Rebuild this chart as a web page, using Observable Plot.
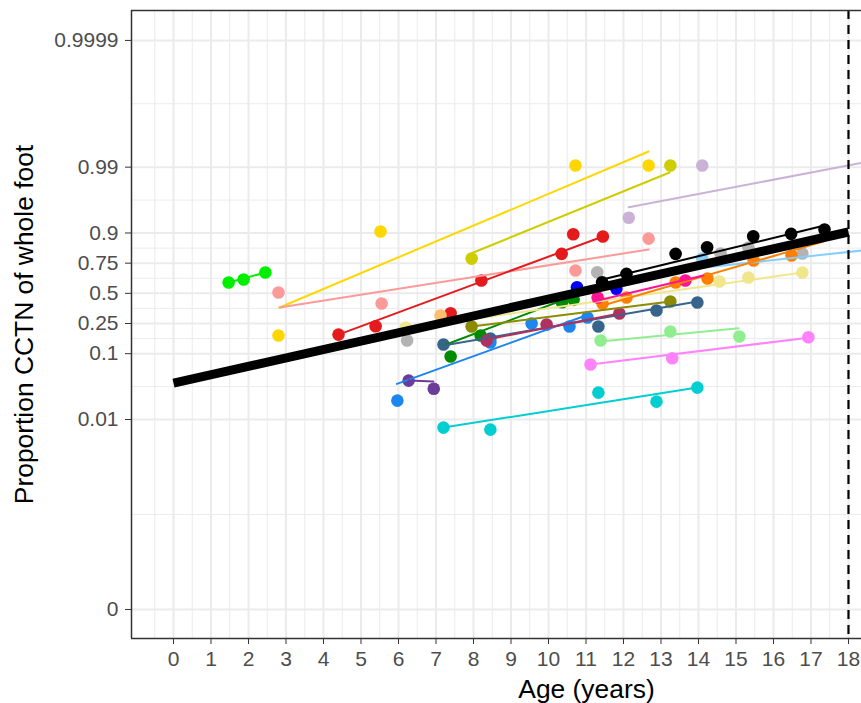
<!DOCTYPE html>
<html>
<head>
<meta charset="utf-8">
<script src="https://cdn.jsdelivr.net/npm/d3@7"></script>
<script src="https://cdn.jsdelivr.net/npm/@observablehq/plot@0.6"></script>
<style>
  html, body { margin: 0; padding: 0; background: #fff; overflow: hidden; }
  #chart { width: 861px; height: 703px; overflow: hidden; }
</style>
</head>
<body>
<div id="chart"></div>
<script>
// ---- subjects and colours ----
const subjectIds = ["A","B","C","D","E","F","G","H","I","J","K","L","M","N","O","P","Q","R","S","T","U","V","W"];
const subjectColors = ["#00EE00","#FFD700","#FB9A99","#CDCD00","#CAB2D6","#87CEFA","#E41A1C","#FDBF6F","#B3B3B3","#000000","#0000FF","#008B00","#36648B","#1C86EE","#6A3D9A","#00CED1","#90EE90","#FF83FA","#8B8B00","#B03060","#F0E68C","#FF7F00","#FF1493"];

// ---- observations (age in years, proportion CCTN) ----
const obsSubject = ["A","A","A","B","B","B","B","C","C","C","C","D","D","E","E","F",
  "G","G","G","G","G","G","G","H","I","I","I","I","I",
  "J","J","J","J","J","J","J","K","K","L","L","L","L",
  "M","M","M","M","M","N","N","N","N","N","O","O",
  "P","P","P","P","P","Q","Q","Q","R","R","R","S","S","T","T","T",
  "U","U","U","U","V","V","V","V","V","V","W","W"];
const obsAge = [1.47,1.87,2.45, 2.80,5.52,10.72,12.67, 2.80,5.55,10.72,12.67, 7.95,13.25, 12.14,14.10, 14.10,
  4.40,5.39,7.39,8.21,10.35,10.66,11.45, 7.12, 6.23,11.30,14.59,15.33,16.77,
  11.43,12.08,13.39,14.23,15.46,16.47,17.36, 10.76,11.81, 7.39,8.19,10.36,10.67,
  7.20,8.45,11.33,12.88,13.97, 5.97,8.45,9.55,10.56,11.04, 6.27,6.94,
  7.20,8.45,11.33,12.88,13.97, 11.39,13.25,15.09, 11.12,13.30,16.93, 7.95,13.25, 8.35,9.95,11.89,
  6.19,14.56,15.33,16.77, 11.44,12.08,13.39,14.24,15.47,16.48, 11.31,13.65];
const obsProp = [0.597,0.623,0.681, 0.177,0.905,0.9906,0.9906, 0.507,0.408,0.6965,0.880, 0.780,0.9906, 0.940,0.9906, 0.780,
  0.182,0.232,0.326,0.615,0.808,0.896,0.888, 0.308, 0.152,0.683,0.810,0.841,0.810,
  0.600,0.670,0.808,0.843,0.889,0.897,0.911, 0.555,0.541, 0.091,0.177,0.420,0.441,
  0.134,0.1615,0.230,0.348,0.417, 0.0197,0.143,0.250,0.230,0.293, 0.040,0.030,
  0.00747,0.00695,0.0262,0.0190,0.0313, 0.152,0.199,0.172, 0.0696,0.086,0.168, 0.230,0.426, 0.152,0.243,0.324,
  0.223,0.606,0.640,0.681, 0.408,0.462,0.597,0.632,0.768,0.7985, 0.462,0.6145];

// ---- individual fitted lines (start and end) ----
const fitSubject = ["A","B","C","D","E","F","G","J","L","M","N","O","P","Q","R","S","T","U","V","W"];
const fitAge0  = [1.47,2.83,2.83,7.95,12.14,14.10,4.40,11.44,7.20,7.20,5.96,6.27,7.20,11.39,11.12,7.95,8.35,6.19,11.44,11.20];
const fitProp0 = [0.597,0.3735,0.3735,0.8116,0.9584,0.717,0.182,0.623,0.130,0.130,0.0357,0.040,0.00747,0.1473,0.0696,0.230,0.1567,0.217,0.391,0.426];
const fitAge1  = [2.45,12.67,12.67,13.23,18.35,18.35,11.45,17.36,10.77,13.97,11.07,6.93,13.97,15.07,16.93,13.25,11.89,16.77,17.33,14.13];
const fitProp1 = [0.681,0.99432,0.8314,0.98788,0.9914,0.826,0.888,0.922,0.489,0.426,0.316,0.0387,0.0313,0.219,0.166,0.426,0.324,0.681,0.868,0.657];

// ---- population fit ----
const popAge = [0, 18];
const popProp = [0.0367, 0.9032];

// ---- axes ----
const xTicks = [0,1,2,3,4,5,6,7,8,9,10,11,12,13,14,15,16,17,18];
const xMinorTicks = [-0.5,0.5,1.5,2.5,3.5,4.5,5.5,6.5,7.5,8.5,9.5,10.5,11.5,12.5,13.5,14.5,15.5,16.5,17.5];
const yTickValues = [0.00001,0.01,0.1,0.25,0.5,0.75,0.9,0.99,0.9999];
const yTickLabels = ["0","0.01","0.1","0.25","0.5","0.75","0.9","0.99","0.9999"];

const logit = p => Math.log(p / (1 - p));

const points = obsAge.map((a, i) => ({id: obsSubject[i], age: a, p: obsProp[i]}));
const fits = fitSubject.flatMap((id, i) => [
  {id, age: fitAge0[i], p: fitProp0[i]},
  {id, age: fitAge1[i], p: fitProp1[i]}
]);
const pop = popAge.map((a, i) => ({age: a, p: popProp[i]}));

const yMajor = yTickValues.map(logit);
const yMinor = yMajor.slice(1).map((v, i) => (v + yMajor[i]) / 2);

const grid = "#EBEBEB";
const border = "#333333";

const chart = Plot.plot({
  width: 861,
  height: 703,
  marginLeft: 131,
  marginRight: 0,
  marginTop: 10,
  marginBottom: 65,
  style: {fontFamily: "'Liberation Sans', Arial, Helvetica, sans-serif", background: "white", overflow: "visible"},
  x: {domain: [-1.12, 18.347]},
  y: {domain: [-12.57, 10.30]},
  color: {type: "ordinal", domain: subjectIds, range: subjectColors},
  marks: [
    Plot.ruleX(xMinorTicks, {stroke: grid, strokeWidth: 1}),
    Plot.ruleY(yMinor, {stroke: grid, strokeWidth: 1}),
    Plot.ruleX(xTicks, {stroke: grid, strokeWidth: 2}),
    Plot.ruleY(yMajor, {stroke: grid, strokeWidth: 2}),
    Plot.dot(points, {x: "age", y: d => logit(d.p), fill: "id", r: 6.3, clip: true}),
    Plot.line(fits, {x: "age", y: d => logit(d.p), z: "id", stroke: "id", strokeWidth: 2, clip: true}),
    Plot.line(pop, {x: "age", y: d => logit(d.p), stroke: "black", strokeWidth: 9, strokeLinecap: "butt"}),
    Plot.ruleX([18], {stroke: "black", strokeWidth: 2.2, strokeDasharray: "9,6"}),
    Plot.ruleX([-1.12], {stroke: border, strokeWidth: 1.5}),
    Plot.ruleY([-12.57], {stroke: border, strokeWidth: 1.5}),
    Plot.ruleY([10.30], {stroke: border, strokeWidth: 1.5}),
    Plot.axisX({ticks: xTicks, tickFormat: d => String(d), tickSize: 6, tickPadding: 7, fontSize: 21, color: "#4D4D4D", stroke: border, label: null}),
    Plot.axisY({ticks: yMajor, tickFormat: d => yTickLabels[yMajor.findIndex(v => Math.abs(v - d) < 1e-9)], tickSize: 6, tickPadding: 7, fontSize: 21, color: "#4D4D4D", stroke: border, label: null}),
    Plot.text(["Proportion CCTN of whole foot"], {text: d => d, frameAnchor: "left", textAnchor: "middle", lineAnchor: "middle", rotate: -90, dx: -107, fontSize: 26.4, fill: "black"}),
    Plot.text(["Age (years)"], {text: d => d, frameAnchor: "bottom", textAnchor: "middle", dx: 90, dy: 51, lineAnchor: "middle", fontSize: 26.4, fill: "black"})
  ]
});
document.getElementById("chart").appendChild(chart);
</script>
</body>
</html>
